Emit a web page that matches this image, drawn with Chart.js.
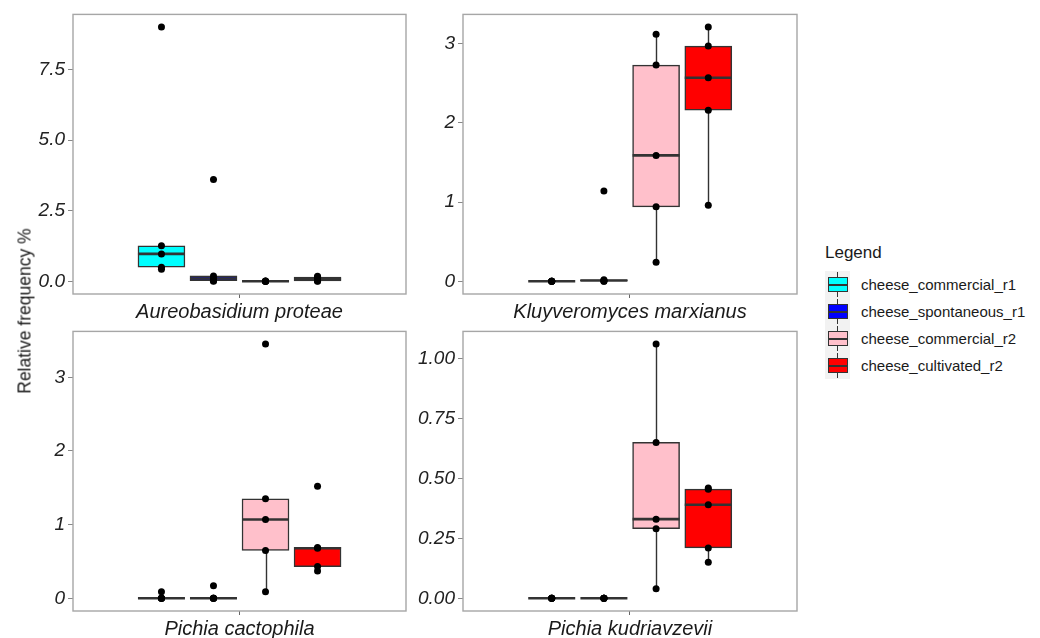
<!DOCTYPE html>
<html>
<head>
<meta charset="utf-8">
<script src="https://cdn.jsdelivr.net/npm/chart.js@4.4.1/dist/chart.umd.min.js"></script>
<style>
body{margin:0;background:#fff;overflow:hidden;font-family:"Liberation Sans",Arial,sans-serif;}
#wrap{position:relative;width:1040px;height:638px;}
canvas{position:absolute;}
#ytitle{position:absolute;left:25px;top:311px;transform:translate(-50%,-50%) rotate(-90deg);font-size:17.5px;color:#1a1a1a;white-space:nowrap;}
#legend{position:absolute;left:825px;top:243px;color:#1a1a1a;}
#legend .ttl{font-size:17px;height:28px;}
#legend .row{position:relative;height:27px;}
#legend .key{position:absolute;left:0;top:0;width:25px;height:27px;background:#f2f2f2;}
#legend .wh{position:absolute;left:12px;top:1px;width:1px;height:25px;background:#333;}
#legend .bx{position:absolute;left:3px;top:6px;width:18px;height:13px;border:1px solid #333;}
#legend .md{position:absolute;left:3px;top:13px;width:20px;height:1.5px;background:#333;}
#legend .lab{position:absolute;left:36px;top:5px;font-size:15px;}
</style>
</head>
<body>
<div id="wrap">
<canvas id="p1" width="410" height="324" style="left:0;top:0"></canvas>
<canvas id="p2" width="411" height="324" style="left:390px;top:0"></canvas>
<canvas id="p3" width="410" height="324" style="left:0;top:317px"></canvas>
<canvas id="p4" width="411" height="324" style="left:390px;top:317px"></canvas>
<div id="ytitle">Relative frequency %</div>
<div id="legend"><div class="ttl">Legend</div></div>
</div>
<script>
// groups and colours
var groups = ["cheese_commercial_r1","cheese_spontaneous_r1","cheese_commercial_r2","cheese_cultivated_r2"];
var fills = ["#00FFFF","#0000FF","#FFC0CB","#FF0000"];
var species = ["Aureobasidium proteae","Kluyveromyces marxianus","Pichia cactophila","Pichia kudriavzevii"];

// sample values (5 per group)
var aureo = [[9.0,1.26,0.97,0.5,0.43],[3.6,0.19,0.1,0.02,0.0],[0.01,0,0,0,0],[0.18,0.15,0.09,0.01,0.0]];
var kluyv = [[0,0,0,0,0],[1.14,0.02,0.01,0,0],[3.12,2.73,1.59,0.94,0.24],[3.21,2.97,2.57,2.16,0.96]];
var cacto = [[0.09,0,0,0,0],[0.17,0,0,0,0],[3.45,1.35,1.07,0.65,0.09],[1.52,0.69,0.68,0.43,0.37]];
var kudri = [[0,0,0,0,0],[0,0,0,0,0],[1.06,0.65,0.33,0.29,0.04],[0.46,0.455,0.39,0.21,0.15]];

// tick labels
var aureoTicks = [0,2.5,5,7.5], aureoLabels = ["0.0","2.5","5.0","7.5"];
var kluyvTicks = [0,1,2,3], kluyvLabels = ["0","1","2","3"];
var cactoTicks = [0,1,2,3], cactoLabels = ["0","1","2","3"];
var kudriTicks = [0,0.25,0.5,0.75,1], kudriLabels = ["0.00","0.25","0.50","0.75","1.00"];

var xpos = [0.71875,0.90625,1.09375,1.28125];

function quant(s,p){
  var h=(s.length-1)*p, lo=Math.floor(h);
  if(lo+1>=s.length) return s[lo];
  return s[lo]+(h-lo)*(s[lo+1]-s[lo]);
}
function stats(v){
  var s=v.slice().sort(function(a,b){return a-b;});
  var q1=quant(s,0.25), md=quant(s,0.5), q3=quant(s,0.75), iqr=q3-q1;
  var lo=q1, hi=q3;
  s.forEach(function(x){
    if(x>=q1-1.5*iqr && x<lo) lo=x;
    if(x<=q3+1.5*iqr && x>hi) hi=x;
  });
  return {q1:q1,md:md,q3:q3,lo:lo,hi:hi};
}

var boxPlugin = {
  id:"boxplot",
  beforeDatasetsDraw:function(chart,args,opts){
    var ctx=chart.ctx, xs=chart.scales.x, ys=chart.scales.y;
    ctx.save();
    ctx.strokeStyle="#333";ctx.lineWidth=1.4;
    opts.st.forEach(function(s,i){
      var px=Math.round(xs.getPixelForValue(xpos[i]))+0.5;
      ctx.beginPath();
      ctx.moveTo(px,ys.getPixelForValue(s.hi));ctx.lineTo(px,ys.getPixelForValue(s.q3));
      ctx.moveTo(px,ys.getPixelForValue(s.q1));ctx.lineTo(px,ys.getPixelForValue(s.lo));
      ctx.stroke();
    });
    ctx.restore();
  },
  afterDatasetDraw:function(chart,args,opts){
    if(args.index!==1) return;
    var ctx=chart.ctx, xs=chart.scales.x, ys=chart.scales.y;
    ctx.save();
    ctx.strokeStyle="#333";ctx.lineWidth=2.6;
    opts.st.forEach(function(s,i){
      var px=xs.getPixelForValue(xpos[i]);
      var py=ys.getPixelForValue(s.md);
      ctx.beginPath();ctx.moveTo(px-23.5,py);ctx.lineTo(px+23.5,py);ctx.stroke();
    });
    ctx.restore();
  },
  afterDatasetsDraw:function(chart){
    var a=chart.chartArea, ctx=chart.ctx;
    ctx.save();
    ctx.strokeStyle="#a6a6a6";ctx.lineWidth=1.4;
    ctx.strokeRect(a.left,a.top,a.right-a.left,a.bottom-a.top);
    ctx.restore();
  }
};

function makePanel(id,name,vals,tickVals,tickLabels){
  var st=vals.map(stats);
  var all=[].concat.apply([],vals);
  var mn=Math.min.apply(null,all), mx=Math.max.apply(null,all), ex=(mx-mn)*0.05;
  var pts=[];
  vals.forEach(function(g,i){g.forEach(function(v){pts.push({x:xpos[i],y:v});});});
  var bars=st.map(function(s,i){return {x:xpos[i],y:[s.q1,s.q3]};});
  new Chart(document.getElementById(id),{
    type:"bar",
    data:{datasets:[
      {type:"scatter",data:pts,backgroundColor:"#000",borderWidth:0,pointRadius:3.5},
      {type:"bar",data:bars,backgroundColor:fills,borderColor:"#333",borderWidth:1.5,borderSkipped:false,barThickness:47}
    ]},
    options:{
      responsive:false,animation:false,
      layout:{padding:{top:13,right:2,left:0,bottom:0}},
      plugins:{legend:{display:false},tooltip:{enabled:false},boxplot:{st:st}},
      scales:{
        x:{type:"linear",min:0.4,max:1.6,offset:false,
          afterBuildTicks:function(ax){ax.ticks=[{value:1}];},
          afterFit:function(ax){ax.height=30;},
          ticks:{callback:function(){return "";}},
          grid:{drawOnChartArea:false,offset:false,tickLength:4,color:"#666"},
          border:{display:false},
          title:{display:true,text:name,color:"#1a1a1a",padding:0,
            font:{family:"Liberation Sans",size:20,style:"italic"}}
        },
        y:{type:"linear",min:mn-ex,max:mx+ex,
          afterBuildTicks:function(ax){ax.ticks=tickVals.map(function(v){return {value:v};});},
          afterFit:function(ax){ax.width=73;},
          ticks:{autoSkip:false,padding:3,color:"#222",
            font:{family:"Liberation Sans",size:19,style:"italic"},
            callback:function(v,i){return tickLabels[i];}},
          grid:{drawOnChartArea:false,tickLength:5,color:"#888"},
          border:{display:false}
        }
      }
    },
    plugins:[boxPlugin]
  });
}

makePanel("p1",species[0],aureo,aureoTicks,aureoLabels);
makePanel("p2",species[1],kluyv,kluyvTicks,kluyvLabels);
makePanel("p3",species[2],cacto,cactoTicks,cactoLabels);
makePanel("p4",species[3],kudri,kudriTicks,kudriLabels);

var leg=document.getElementById("legend");
groups.forEach(function(g,i){
  var r=document.createElement("div");r.className="row";
  r.innerHTML='<div class="key"><div class="wh"></div><div class="bx" style="background:'+fills[i]+'"></div><div class="md"></div></div><div class="lab">'+g+'</div>';
  leg.appendChild(r);
});
</script>
</body>
</html>
